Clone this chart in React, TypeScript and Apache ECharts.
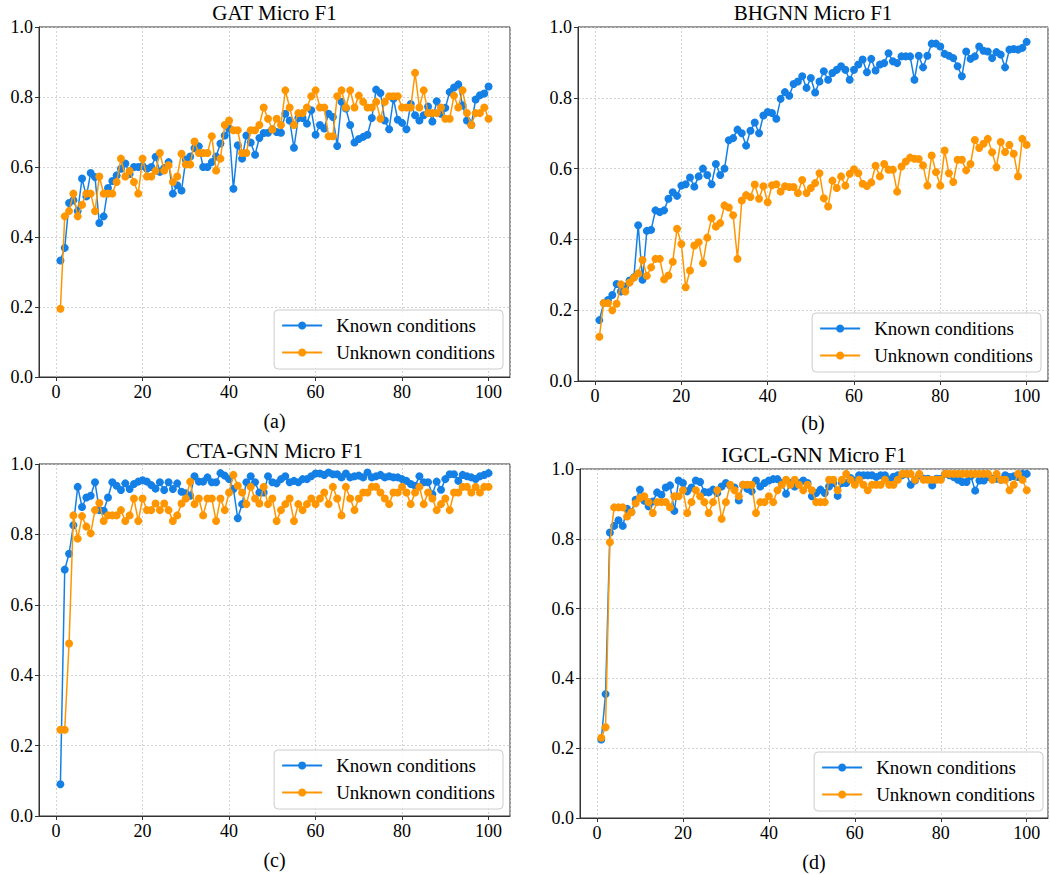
import React, { useEffect, useRef } from "react";
import * as echarts from "echarts";

const epochs: number[] = Array.from({ length: 100 }, (_, i) => i + 1);
const xTicks = [0, 20, 40, 60, 80, 100];
const yTicks = [0, 0.2, 0.4, 0.6, 0.8, 1.0];
const legendNames = ["Known conditions", "Unknown conditions"];
const panelTitles = ["GAT Micro F1", "BHGNN Micro F1", "CTA-GNN Micro F1", "IGCL-GNN Micro F1"];
const captions = ["(a)", "(b)", "(c)", "(d)"];

const gatKnown = [
  0.333, 0.369, 0.497, 0.505, 0.474, 0.567, 0.516, 0.583, 0.571, 0.44,
  0.459, 0.54, 0.56, 0.576, 0.595, 0.61, 0.58, 0.6, 0.6, 0.603,
  0.595, 0.6, 0.629, 0.586, 0.597, 0.614, 0.524, 0.548, 0.533, 0.621,
  0.63, 0.654, 0.659, 0.6, 0.6, 0.614, 0.63, 0.667, 0.69, 0.71,
  0.538, 0.662, 0.624, 0.69, 0.67, 0.635, 0.683, 0.697, 0.698, 0.708,
  0.7, 0.698, 0.752, 0.733, 0.655, 0.74, 0.74, 0.724, 0.762, 0.692,
  0.72, 0.71, 0.752, 0.743, 0.66, 0.786, 0.767, 0.72, 0.67, 0.68,
  0.686, 0.692, 0.74, 0.821, 0.811, 0.733, 0.708, 0.795, 0.735, 0.726,
  0.708, 0.78, 0.748, 0.733, 0.748, 0.773, 0.73, 0.788, 0.752, 0.769,
  0.814, 0.827, 0.836, 0.776, 0.733, 0.72, 0.793, 0.805, 0.81, 0.83,
];
const gatUnknown = [
  0.195, 0.459, 0.474, 0.524, 0.459, 0.492, 0.524, 0.524, 0.474, 0.573,
  0.524, 0.524, 0.524, 0.557, 0.624, 0.573, 0.589, 0.557, 0.524, 0.624,
  0.573, 0.573, 0.589, 0.64, 0.59, 0.605, 0.557, 0.573, 0.638, 0.607,
  0.607, 0.673, 0.64, 0.64, 0.64, 0.688, 0.59, 0.624, 0.72, 0.733,
  0.705, 0.705, 0.64, 0.64, 0.705, 0.705, 0.72, 0.77, 0.738, 0.707,
  0.738, 0.72, 0.819, 0.77, 0.72, 0.754, 0.754, 0.77, 0.802, 0.819,
  0.77, 0.77, 0.688, 0.688, 0.802, 0.819, 0.77, 0.819, 0.77, 0.804,
  0.786, 0.77, 0.77, 0.786, 0.738, 0.786, 0.802, 0.802, 0.802, 0.77,
  0.77, 0.77, 0.869, 0.77, 0.819, 0.754, 0.754, 0.754, 0.77, 0.738,
  0.738, 0.804, 0.77, 0.819, 0.754, 0.72, 0.754, 0.754, 0.77, 0.738,
];
const bhgnnKnown = [
  0.172, 0.22, 0.229, 0.243, 0.274, 0.253, 0.267, 0.284, 0.293, 0.44,
  0.286, 0.424, 0.427, 0.482, 0.477, 0.482, 0.515, 0.533, 0.523, 0.552,
  0.556, 0.575, 0.549, 0.578, 0.6, 0.582, 0.556, 0.613, 0.582, 0.6,
  0.68, 0.686, 0.71, 0.7, 0.665, 0.707, 0.73, 0.7, 0.75, 0.76,
  0.757, 0.741, 0.797, 0.816, 0.806, 0.839, 0.846, 0.861, 0.828, 0.856,
  0.815, 0.846, 0.875, 0.851, 0.87, 0.879, 0.889, 0.879, 0.851, 0.879,
  0.894, 0.908, 0.872, 0.91, 0.877, 0.894, 0.898, 0.926, 0.903, 0.898,
  0.917, 0.917, 0.917, 0.851, 0.919, 0.886, 0.919, 0.953, 0.953, 0.945,
  0.924, 0.919, 0.912, 0.889, 0.861, 0.931, 0.91, 0.917, 0.945, 0.933,
  0.931, 0.912, 0.929, 0.922, 0.886, 0.936, 0.938, 0.936, 0.941, 0.958,
];
const bhgnnUnknown = [
  0.125, 0.22, 0.22, 0.2, 0.218, 0.273, 0.253, 0.278, 0.292, 0.304,
  0.342, 0.297, 0.321, 0.345, 0.345, 0.287, 0.298, 0.337, 0.43, 0.387,
  0.265, 0.312, 0.383, 0.392, 0.333, 0.405, 0.46, 0.436, 0.446, 0.496,
  0.49, 0.468, 0.345, 0.51, 0.525, 0.52, 0.555, 0.515, 0.55, 0.505,
  0.553, 0.556, 0.535, 0.55, 0.548, 0.548, 0.531, 0.568, 0.531, 0.545,
  0.559, 0.587, 0.516, 0.493, 0.566, 0.545, 0.578, 0.552, 0.585, 0.598,
  0.587, 0.557, 0.551, 0.561, 0.608, 0.578, 0.613, 0.597, 0.597, 0.535,
  0.606, 0.62, 0.631, 0.628, 0.627, 0.609, 0.552, 0.637, 0.59, 0.552,
  0.651, 0.587, 0.562, 0.625, 0.625, 0.595, 0.613, 0.681, 0.658, 0.67,
  0.684, 0.646, 0.604, 0.675, 0.647, 0.667, 0.642, 0.578, 0.684, 0.667,
];
const ctaKnown = [
  0.09, 0.7, 0.745, 0.826, 0.935, 0.878, 0.905, 0.91, 0.948, 0.869,
  0.867, 0.905, 0.948, 0.938, 0.926, 0.945, 0.929, 0.943, 0.95, 0.954,
  0.95, 0.94, 0.93, 0.948, 0.926, 0.948, 0.929, 0.945, 0.921, 0.917,
  0.91, 0.965, 0.95, 0.95, 0.962, 0.948, 0.948, 0.974, 0.967, 0.957,
  0.929, 0.846, 0.886, 0.948, 0.965, 0.948, 0.919, 0.919, 0.965, 0.948,
  0.945, 0.957, 0.965, 0.948, 0.952, 0.948, 0.957, 0.957, 0.965, 0.973,
  0.973, 0.969, 0.976, 0.971, 0.971, 0.962, 0.973, 0.962, 0.965, 0.967,
  0.962, 0.976, 0.962, 0.965, 0.969, 0.962, 0.965, 0.962, 0.962, 0.957,
  0.952, 0.943, 0.938, 0.965, 0.948, 0.948, 0.914, 0.95, 0.927, 0.957,
  0.971, 0.971, 0.952, 0.969, 0.965, 0.962, 0.957, 0.965, 0.969, 0.974,
];
const ctaUnknown = [
  0.245, 0.245, 0.49, 0.854, 0.788, 0.852, 0.822, 0.803, 0.869, 0.889,
  0.838, 0.854, 0.854, 0.854, 0.869, 0.838, 0.854, 0.902, 0.838, 0.902,
  0.869, 0.869, 0.888, 0.869, 0.888, 0.869, 0.838, 0.854, 0.888, 0.902,
  0.95, 0.886, 0.902, 0.854, 0.902, 0.902, 0.838, 0.902, 0.869, 0.919,
  0.969, 0.938, 0.919, 0.886, 0.935, 0.902, 0.888, 0.935, 0.886, 0.902,
  0.838, 0.869, 0.886, 0.902, 0.838, 0.886, 0.869, 0.886, 0.902, 0.886,
  0.902, 0.919, 0.886, 0.935, 0.902, 0.854, 0.935, 0.902, 0.869, 0.902,
  0.919, 0.919, 0.935, 0.935, 0.919, 0.902, 0.886, 0.919, 0.919, 0.935,
  0.919, 0.886, 0.919, 0.935, 0.886, 0.919, 0.902, 0.869, 0.886, 0.902,
  0.869, 0.919, 0.919, 0.935, 0.935, 0.919, 0.935, 0.919, 0.935, 0.935,
];
const igclKnown = [
  0.225, 0.355, 0.818, 0.837, 0.853, 0.837, 0.886, 0.877, 0.912, 0.941,
  0.909, 0.893, 0.907, 0.933, 0.926, 0.947, 0.953, 0.88, 0.967, 0.96,
  0.936, 0.947, 0.967, 0.963, 0.934, 0.933, 0.941, 0.931, 0.95, 0.96,
  0.953, 0.947, 0.91, 0.955, 0.943, 0.936, 0.967, 0.95, 0.96, 0.967,
  0.971, 0.971, 0.96, 0.929, 0.96, 0.95, 0.96, 0.967, 0.96, 0.922,
  0.931, 0.941, 0.931, 0.95, 0.96, 0.923, 0.96, 0.96, 0.974, 0.967,
  0.982, 0.982, 0.982, 0.982, 0.977, 0.982, 0.982, 0.969, 0.978, 0.982,
  0.982, 0.986, 0.955, 0.967, 0.982, 0.972, 0.972, 0.953, 0.972, 0.972,
  0.986, 0.982, 0.977, 0.969, 0.963, 0.963, 0.979, 0.938, 0.967, 0.967,
  0.977, 0.972, 0.972, 0.969, 0.982, 0.977, 0.979, 0.977, 0.986, 0.986,
];
const igclUnknown = [
  0.23, 0.26, 0.79, 0.89, 0.89, 0.89, 0.864, 0.876, 0.902, 0.917,
  0.922, 0.905, 0.874, 0.905, 0.905, 0.905, 0.89, 0.922, 0.922, 0.939,
  0.874, 0.905, 0.939, 0.922, 0.905, 0.874, 0.905, 0.939, 0.857, 0.905,
  0.955, 0.939, 0.922, 0.955, 0.955, 0.955, 0.874, 0.905, 0.905, 0.922,
  0.905, 0.939, 0.955, 0.969, 0.955, 0.969, 0.955, 0.939, 0.955, 0.939,
  0.905, 0.905, 0.905, 0.969, 0.969, 0.939, 0.969, 0.986, 0.969, 0.955,
  0.969, 0.955, 0.939, 0.955, 0.955, 0.955, 0.969, 0.955, 0.955, 0.969,
  0.986, 0.986, 0.986, 0.969, 0.986, 0.969, 0.969, 0.969, 0.969, 0.969,
  0.986, 0.986, 0.986, 0.986, 0.986, 0.986, 0.986, 0.986, 0.986, 0.986,
  0.986, 0.969, 0.986, 0.969, 0.969, 0.939, 0.955, 0.986, 0.969, 0.939,
];

const knownSets = [gatKnown, bhgnnKnown, ctaKnown, igclKnown];
const unknownSets = [gatUnknown, bhgnnUnknown, ctaUnknown, igclUnknown];

const FONT = '"Liberation Serif", "DejaVu Serif", serif';
const BLUE = "#1480e6";
const ORANGE = "#ff9600";

// layout (pixels)
const grids = [
  { left: 39, top: 27, width: 471, height: 350 },
  { left: 578, top: 27, width: 470, height: 354 },
  { left: 39, top: 464, width: 471, height: 352 },
  { left: 580, top: 469, width: 468, height: 349 },
];
const legendPos = [
  { right: 547, bottom: 506 },
  { right: 9, bottom: 503 },
  { right: 547, bottom: 66 },
  { right: 7, bottom: 64 },
];
const titleY = [13, 13, 451, 455];
const captionY = [421, 423, 860, 862];

export default function App() {
  const ref = useRef<HTMLDivElement>(null);
  useEffect(() => {
    if (!ref.current) return;
    const chart = echarts.init(ref.current, undefined, { renderer: "svg" });

    const xAxis = grids.map((_, i) => ({
      type: "value",
      gridIndex: i,
      min: -3.95,
      max: 104.95,
      splitNumber: 5,
      axisLine: { show: true, onZero: false, lineStyle: { color: "#333", width: 1 } },
      axisTick: { show: true, length: 4, lineStyle: { color: "#333" } },
      axisLabel: {
        showMinLabel: false,
        showMaxLabel: false,
        color: "#000",
        fontFamily: FONT,
        fontSize: 18,
        margin: 6,
        formatter: (v: number) => (xTicks.includes(v) ? String(v) : ""),
      },
      splitLine: { show: true, lineStyle: { color: "#c8c8c8", type: [2, 2], width: 0.8 } },
    }));
    const yAxis = grids.map((_, i) => ({
      type: "value",
      gridIndex: i,
      min: yTicks[0],
      max: yTicks[yTicks.length - 1],
      interval: 0.2,
      axisLine: { show: true, onZero: false, lineStyle: { color: "#333", width: 1 } },
      axisTick: { show: true, length: 4, lineStyle: { color: "#333" } },
      axisLabel: {
        color: "#000",
        fontFamily: FONT,
        fontSize: 18,
        margin: 6,
        formatter: (v: number) => v.toFixed(1),
      },
      splitLine: { show: true, lineStyle: { color: "#c8c8c8", type: [2, 2], width: 0.8 } },
    }));

    const series: any[] = [];
    grids.forEach((_, i) => {
      series.push({
        name: legendNames[0],
        type: "line",
        xAxisIndex: i,
        yAxisIndex: i,
        data: epochs.map((e, j) => [e, knownSets[i][j]]),
        symbol: "circle",
        symbolSize: 8,
        lineStyle: { color: BLUE, width: 1.5 },
        itemStyle: { color: BLUE },
        z: 2,
      });
      series.push({
        name: legendNames[1],
        type: "line",
        xAxisIndex: i,
        yAxisIndex: i,
        data: epochs.map((e, j) => [e, unknownSets[i][j]]),
        symbol: "circle",
        symbolSize: 8,
        lineStyle: { color: ORANGE, width: 1.5 },
        itemStyle: { color: ORANGE },
        z: 3,
      });
    });

    const legend = legendPos.map((p) => ({
      orient: "vertical",
      right: p.right,
      bottom: p.bottom,
      data: legendNames,
      selectedMode: false,
      itemWidth: 40,
      itemHeight: 10,
      itemGap: 6,
      padding: [5, 8, 6, 7],
      borderColor: "#cccccc",
      borderWidth: 1,
      borderRadius: 4,
      backgroundColor: "rgba(255,255,255,0.85)",
      textStyle: { fontFamily: FONT, fontSize: 19, color: "#000", lineHeight: 21, padding: [0, 0, 0, 9] },
    }));

    const graphic: any[] = [];
    grids.forEach((g, i) => {
      const cx = g.left + g.width / 2;
      graphic.push({
        type: "text",
        x: cx,
        y: titleY[i],
        style: {
          text: panelTitles[i],
          font: `21px ${FONT}`,
          fill: "#000",
          textAlign: "center",
          textVerticalAlign: "middle",
          align: "center",
          verticalAlign: "middle",
        },
      });
      graphic.push({
        type: "text",
        x: cx,
        y: captionY[i],
        style: {
          text: captions[i],
          font: `20px ${FONT}`,
          fill: "#000",
          textAlign: "center",
          textVerticalAlign: "middle",
          align: "center",
          verticalAlign: "middle",
        },
      });
    });

    chart.setOption({
      animation: false,
      backgroundColor: "#ffffff",
      grid: grids.map((g) => ({ ...g, show: true, borderColor: "#333", borderWidth: 1, containLabel: false })),
      xAxis,
      yAxis,
      series,
      legend,
      graphic,
    });
    return () => chart.dispose();
  }, []);
  return (
    <div
      ref={ref}
      style={{ position: "absolute", left: 0, top: 0, width: 1050, height: 875, background: "#fff" }}
    />
  );
}
